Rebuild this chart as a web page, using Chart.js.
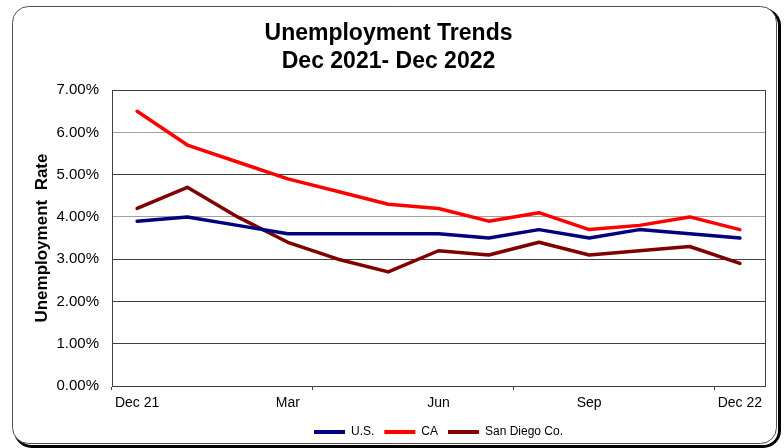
<!DOCTYPE html>
<html>
<head>
<meta charset="utf-8">
<script src="https://cdn.jsdelivr.net/npm/chart.js@4/dist/chart.umd.min.js"></script>
<style>
  html, body { margin: 0; padding: 0; background: #ffffff; }
  #wrap { width: 784px; height: 448px; position: relative; }
</style>
</head>
<body>
<div id="wrap"><canvas id="c" width="784" height="448"></canvas></div>
<script>
const months = ['Dec 21','Jan','Feb','Mar','Apr','May','Jun','Jul','Aug','Sep','Oct','Nov','Dec 22'];
const usRate = [3.9, 4.0, 3.8, 3.6, 3.6, 3.6, 3.6, 3.5, 3.7, 3.5, 3.7, 3.6, 3.5];
const caRate = [6.5, 5.7, 5.3, 4.9, 4.6, 4.3, 4.2, 3.9, 4.1, 3.7, 3.8, 4.0, 3.7];
const sdRate = [4.2, 4.7, 4.0, 3.4, 3.0, 2.7, 3.2, 3.1, 3.4, 3.1, 3.2, 3.3, 2.9];
const seriesNames = ['U.S.', 'CA', 'San Diego Co.'];
const seriesColors = ['#000080', '#ff0000', '#800000'];
const titleLines = ['Unemployment Trends', 'Dec 2021- Dec 2022'];
const yAxisTitle = 'Unemployment  Rate';

const FONT = "'Liberation Sans', Arial, sans-serif";
const AXIS_DARK = '#404040';

const framePlugin = {
  id: 'frame',
  beforeDraw(chart) {
    const ctx = chart.ctx;
    ctx.save();
    ctx.fillStyle = '#ffffff';
    ctx.fillRect(0, 0, chart.width, chart.height);
    function rr(x, y, w, h, r) {
      ctx.beginPath();
      ctx.moveTo(x + r, y);
      ctx.lineTo(x + w - r, y);
      ctx.arcTo(x + w, y, x + w, y + r, r);
      ctx.lineTo(x + w, y + h - r);
      ctx.arcTo(x + w, y + h, x + w - r, y + h, r);
      ctx.lineTo(x + r, y + h);
      ctx.arcTo(x, y + h, x, y + h - r, r);
      ctx.lineTo(x, y + r);
      ctx.arcTo(x, y, x + r, y, r);
      ctx.closePath();
    }
    ctx.lineWidth = 3;
    ctx.strokeStyle = '#000000';
    rr(15.5, 9.5, 764, 437, 16);
    ctx.stroke();
    ctx.fillStyle = '#ffffff';
    rr(12.5, 6.5, 764, 437, 16);
    ctx.fill();
    ctx.lineWidth = 1;
    ctx.strokeStyle = '#505050';
    rr(12.5, 6.5, 764, 437, 16);
    ctx.stroke();
    ctx.restore();
  },
  beforeDatasetsDraw(chart) {
    const a = chart.chartArea;
    const ctx = chart.ctx;
    ctx.save();
    ctx.strokeStyle = AXIS_DARK;
    ctx.lineWidth = 1;
    ctx.beginPath();
    const x = Math.round(a.right) + 0.5;
    ctx.moveTo(x, a.top);
    ctx.lineTo(x, a.bottom);
    ctx.stroke();
    ctx.restore();
  }
};

const datasets = [usRate, caRate, sdRate].map((d, i) => ({
  label: seriesNames[i],
  data: d,
  borderColor: seriesColors[i],
  backgroundColor: seriesColors[i],
  borderWidth: 3.5,
  pointRadius: 0,
  pointHoverRadius: 0,
  tension: 0,
  fill: false,
  borderCapStyle: 'round',
  borderJoinStyle: 'round'
}));

new Chart(document.getElementById('c'), {
  type: 'line',
  data: { labels: months, datasets: datasets },
  options: {
    responsive: false,
    animation: false,
    events: [],
    layout: { padding: { left: 12, right: 19, top: 0, bottom: 0 } },
    plugins: {
      title: {
        display: true,
        text: titleLines,
        color: '#000000',
        font: { family: FONT, size: 23, weight: 'bold', lineHeight: 1.22 },
        padding: { top: 20, bottom: 14 }
      },
      legend: {
        display: true,
        position: 'bottom',
        fullSize: false,
        labels: {
          color: '#000000',
          font: { family: FONT, size: 12 },
          boxWidth: 31,
          boxHeight: 4,
          padding: 10,
          generateLabels(chart) {
            return Chart.defaults.plugins.legend.labels.generateLabels(chart).map(l => Object.assign(l, { lineWidth: 0 }));
          }
        }
      },
      tooltip: { enabled: false }
    },
    scales: {
      x: {
        type: 'category',
        offset: true,
        grid: {
          offset: true,
          drawOnChartArea: false,
          drawTicks: true,
          tickLength: 4,
          color: (ctx) => (ctx.index % 4 === 0 ? AXIS_DARK : 'rgba(0,0,0,0)')
        },
        border: { display: true, color: AXIS_DARK, width: 1 },
        ticks: {
          autoSkip: false,
          maxRotation: 0,
          minRotation: 0,
          color: '#000000',
          font: { family: FONT, size: 14 },
          padding: 5,
          callback: function (value, index) { return index % 3 === 0 ? this.getLabelForValue(value) : ''; }
        },
        afterFit(scale) { scale.height = 30; }
      },
      y: {
        min: 0,
        max: 7,
        grid: {
          drawTicks: false,
          color: (ctx) => (ctx.tick && (ctx.tick.value === 4 || ctx.tick.value === 6) ? '#a0a0a0' : AXIS_DARK),
          lineWidth: 1
        },
        border: { display: true, color: AXIS_DARK, width: 1 },
        ticks: {
          stepSize: 1,
          color: '#000000',
          font: { family: FONT, size: 15 },
          padding: 13,
          callback: (v) => v.toFixed(2) + '%'
        },
        title: {
          display: true,
          text: yAxisTitle,
          color: '#000000',
          font: { family: FONT, size: 17, weight: 'bold' },
          padding: { top: 20, bottom: 0 }
        },
        afterFit(scale) { scale.width = 100; }
      }
    }
  },
  plugins: [framePlugin]
});
</script>
</body>
</html>
